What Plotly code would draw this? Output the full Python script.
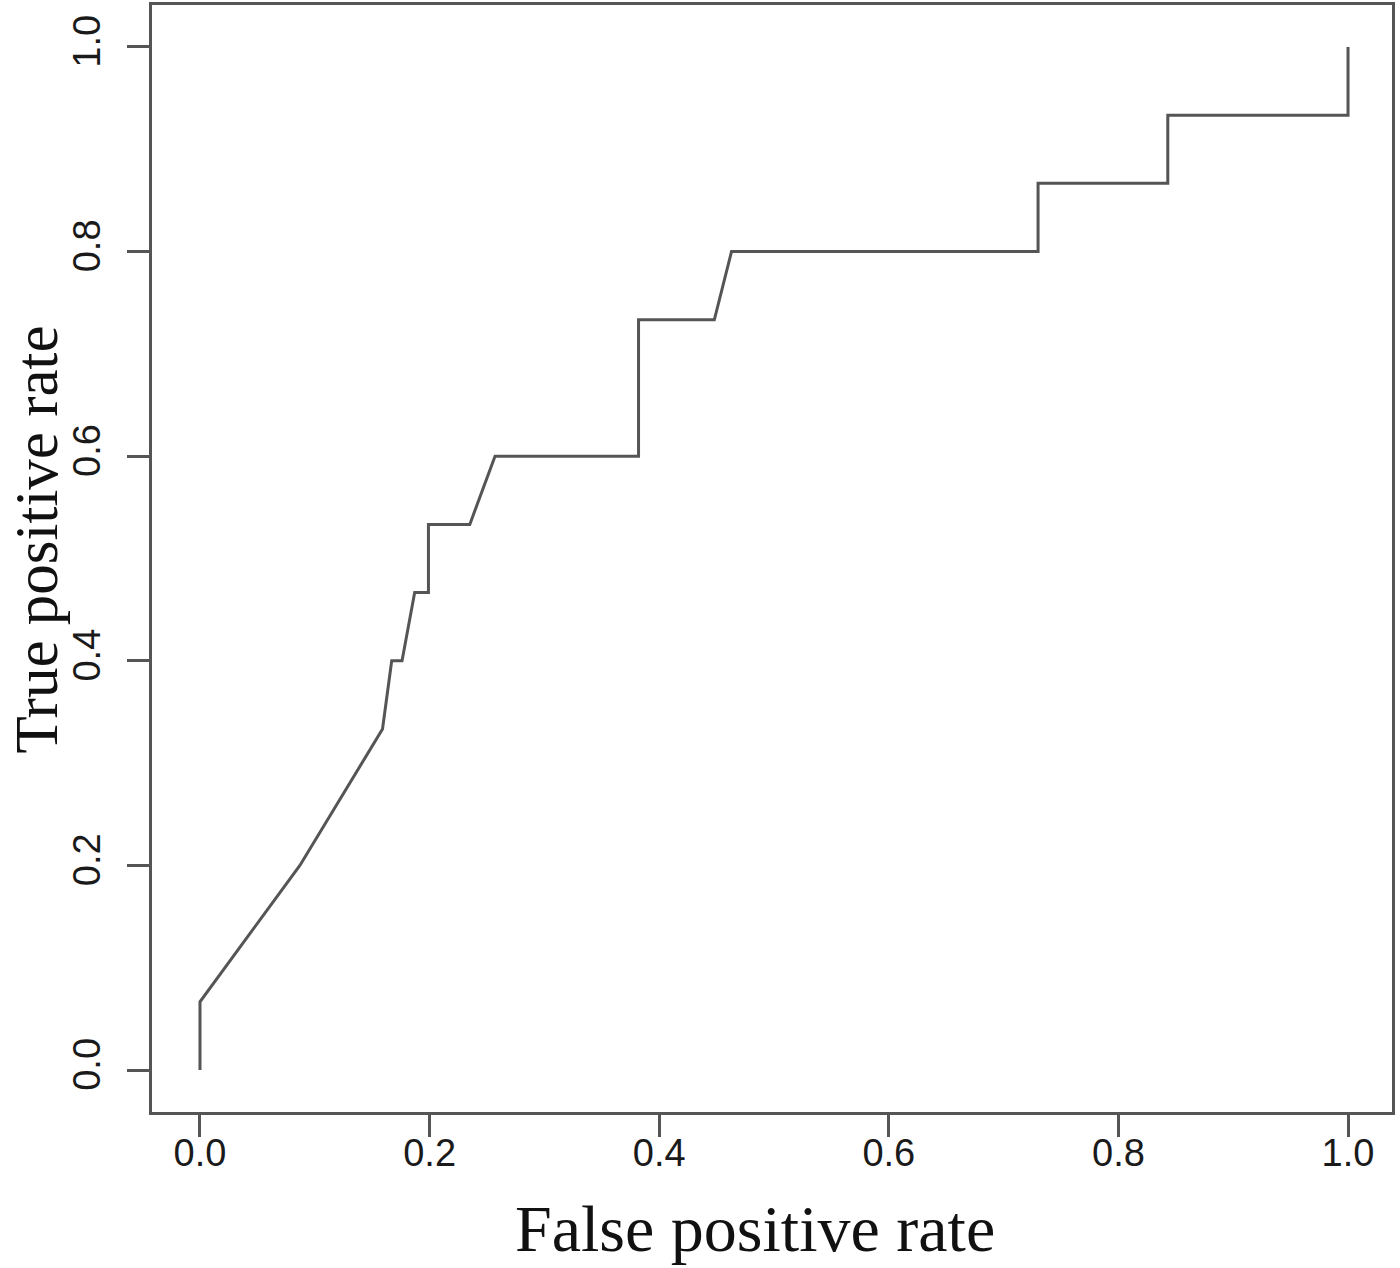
import plotly.graph_objects as go

# ROC curve points
fpr = [0.0, 0.0, 0.087, 0.159, 0.167, 0.176, 0.187, 0.199, 0.199, 0.235, 0.257,
       0.382, 0.382, 0.448, 0.463, 0.730, 0.730, 0.843, 0.843, 1.0, 1.0]
tpr = [0.0, 0.0667, 0.2, 0.3333, 0.4, 0.4, 0.4667, 0.4667, 0.5333, 0.5333, 0.6,
       0.6, 0.7333, 0.7333, 0.8, 0.8, 0.8667, 0.8667, 0.9333, 0.9333, 1.0]

tick_vals = [0.0, 0.2, 0.4, 0.6, 0.8, 1.0]
tick_text = ["0.0", "0.2", "0.4", "0.6", "0.8", "1.0"]

x_title = "False positive rate"
y_title = "True positive rate"

line_col = "#555555"
fig = go.Figure()
fig.add_trace(go.Scatter(x=fpr, y=tpr, mode="lines",
                         line=dict(color=line_col, width=3), showlegend=False,
                         hoverinfo="skip"))

tick_font = dict(family="Liberation Sans, Arial, sans-serif", size=38, color="#1a1a1a")
xtitle_font = dict(family="Liberation Serif, Times New Roman, serif", size=66, color="#111111")
ytitle_font = dict(family="Liberation Serif, Times New Roman, serif", size=61, color="#111111")

L, R, T, B = 152, 8, 5, 156
W, H = 1400, 1268
pw, ph = W - L - R, H - T - B

fig.update_layout(
    width=W, height=H,
    margin=dict(l=L, r=R, t=T, b=B, autoexpand=False),
    paper_bgcolor="white", plot_bgcolor="white",
    xaxis=dict(range=[-0.0418, 1.0383], tickvals=tick_vals, ticktext=tick_text,
               showgrid=False, zeroline=False, showline=True, mirror=True,
               linecolor=line_col, linewidth=3, ticks="outside", ticklen=22,
               tickwidth=2.5, tickcolor=line_col, tickfont=tick_font,
               ticklabelstandoff=-17),
    yaxis=dict(range=[-0.041, 1.041], tickvals=tick_vals, ticktext=tick_text,
               showgrid=False, zeroline=False, showline=True, mirror=True,
               linecolor=line_col, linewidth=3, ticks="outside", ticklen=22,
               tickwidth=2.5, tickcolor=line_col, tickfont=tick_font, tickangle=-90,
               ticklabelstandoff=12),
    annotations=[
        dict(text=x_title, xref="paper", yref="paper",
             x=(755 - L) / pw, y=(H - B - 1228) / ph, xanchor="center", yanchor="middle",
             showarrow=False, font=xtitle_font),
        dict(text=y_title, xref="paper", yref="paper", textangle=-90,
             x=(1 - L) / pw, y=(H - B - 540) / ph, xanchor="left", yanchor="middle",
             showarrow=False, font=ytitle_font, borderpad=0),
    ],
)

fig.write_html("out.html", config={"displayModeBar": False},
               post_script="document.body.style.margin='0';document.body.style.padding='0';")
